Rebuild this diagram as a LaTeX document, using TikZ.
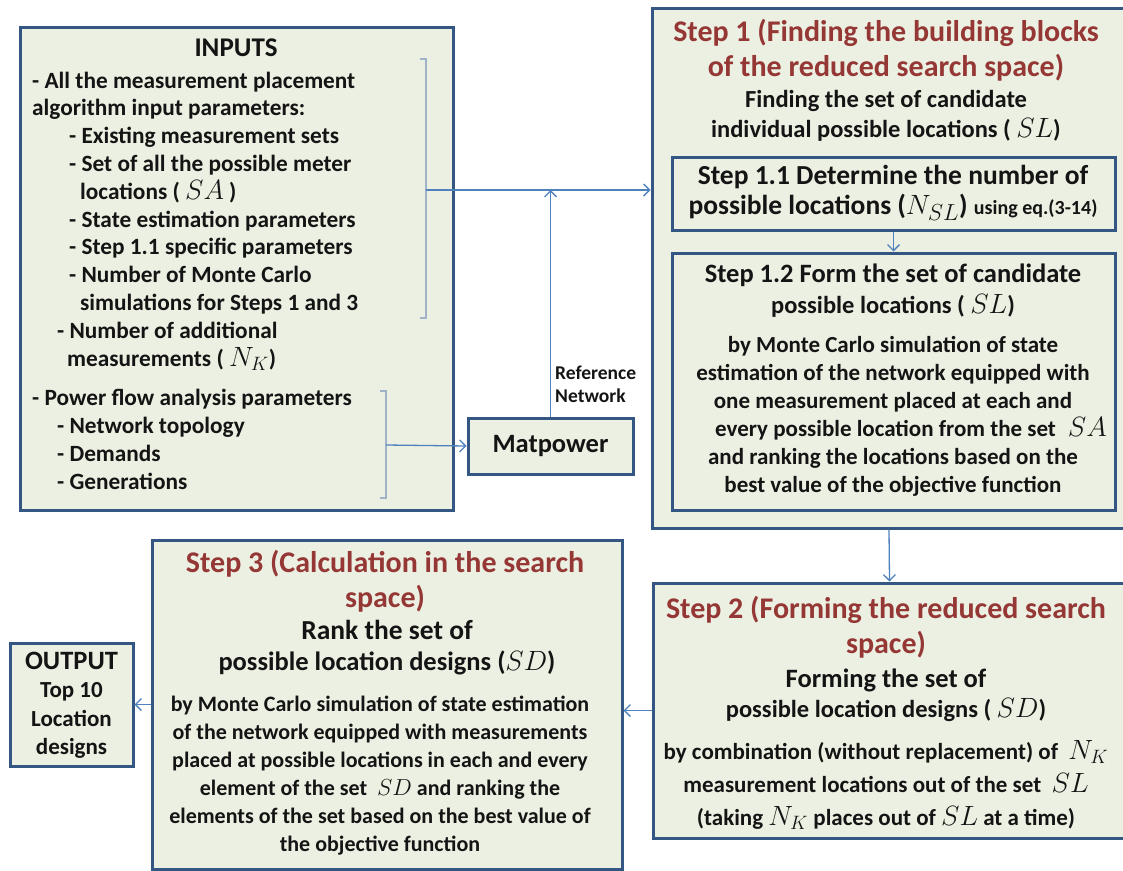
\documentclass[tikz,border=0pt]{standalone}
\usepackage{fontspec}
\usepackage{graphicx}
\setmainfont{Carlito}
\usetikzlibrary{arrows.meta}

\definecolor{boxfill}{RGB}{236,240,226}
\definecolor{boxline}{RGB}{52,86,130}
\definecolor{linkblue}{RGB}{79,129,189}
\definecolor{bracegray}{RGB}{160,178,200}
\definecolor{steptitle}{RGB}{149,55,53}
\definecolor{inktext}{RGB}{20,20,20}

\newcommand{\mv}[1]{\scalebox{1.12}{$#1$}}

\tikzset{
  block/.style={draw=boxline, line width=3pt, fill=boxfill, inner sep=0pt},
  link/.style={draw=linkblue, line width=1.3pt, -{Straight Barb[length=6pt,width=12pt]}},
  brace/.style={draw=bracegray, line width=1.4pt},
  title/.style={text=steptitle, align=center, inner sep=0pt, font=\bfseries\fontsize{30}{34.5}\selectfont},
  subtitle/.style={text=inktext, align=center, inner sep=0pt, font=\bfseries\fontsize{24.5}{30}\selectfont},
  body/.style={text=inktext, align=center, inner sep=0pt, font=\bfseries\fontsize{23}{28}\selectfont},
  listing/.style={text=inktext, align=left, inner sep=0pt, font=\bfseries\fontsize{23.3}{27.8}\selectfont},
}

\begin{document}
\begin{tikzpicture}[x=1pt, y=-1pt]
  \useasboundingbox (0,0) rectangle (1123,870);

  % boxes
  \node[block, minimum width=433pt, minimum height=483pt] (inputs) at (236.5,268.5) {};
  \node[block, minimum width=165pt, minimum height=56pt, text=inktext,
        font=\bfseries\fontsize{26.5}{30}\selectfont] (matpower) at (550.5,446) {Matpower};
  \node[block, minimum width=474pt, minimum height=520pt] (step1) at (889,268) {};
  \node[block, minimum width=443pt, minimum height=73pt] (step11) at (893.5,193.5) {};
  \node[block, minimum width=443pt, minimum height=257pt] (step12) at (893.5,381.5) {};
  \node[block, minimum width=473pt, minimum height=255pt] (step2) at (889.5,710.5) {};
  \node[block, minimum width=470pt, minimum height=329pt] (step3) at (387,704.5) {};
  \node[block, minimum width=123pt, minimum height=123pt] (output) at (71.5,704.5) {};

  % inputs
  \node[text=inktext, inner sep=0pt, font=\bfseries\fontsize{27}{30}\selectfont] (inputs-head) at (236,48) {INPUTS};
  \node[listing, anchor=west] (inputs-algo) at (32,221) {%
    - All the measurement placement\\
    algorithm input parameters:\\
    \hspace*{37pt}- Existing measurement sets\\
    \hspace*{37pt}- Set of all the possible meter\\
    \hspace*{48pt}locations ( \mv{SA} )\\
    \hspace*{37pt}- State estimation parameters\\
    \hspace*{37pt}- Step 1.1 specific parameters\\
    \hspace*{37pt}- Number of Monte Carlo\\
    \hspace*{48pt}simulations for Steps 1 and 3\\
    \hspace*{25pt}- Number of additional\\
    \hspace*{35pt}measurements ( \mv{N_K})};
  \node[listing, anchor=west] (inputs-flow) at (32,439.5) {%
    - Power flow analysis parameters\\
    \hspace*{25pt}- Network topology\\
    \hspace*{25pt}- Demands\\
    \hspace*{25pt}- Generations};
  \draw[brace] (420,59) -- (426,59) -- (426,318) -- (420,318);
  \draw[brace] (380,391) -- (386,391) -- (386,498) -- (380,498);
  \coordinate (brace1) at (426,190);
  \coordinate (brace2) at (386,445);

  \node[anchor=west, align=left, inner sep=0pt, text=inktext,
        font=\bfseries\fontsize{19.5}{23}\selectfont] (refnet) at (555,384.5) {Reference\\Network};

  % step 1
  \node[title] (s1-head) at (886,50) {Step 1 (Finding the building blocks\\of the reduced search space)};
  \node[subtitle] (s1-sub) at (886,116) {Finding the set of candidate\\individual possible locations ( \mv{SL})};
  \node[subtitle, font=\bfseries\fontsize{27.5}{30}\selectfont] (s11-text) at (893,192.5) {Step 1.1 Determine the number of\\possible locations (\mv{N_{SL}}) {\fontsize{20}{24}\selectfont using eq.(3-14)}};
  \node[subtitle, font=\bfseries\fontsize{26.5}{31}\selectfont] (s12-head) at (893,290.5) {Step 1.2 Form the set of candidate\\{\fontsize{24.5}{31}\selectfont possible locations ( \mv{SL})}};
  \node[body] (s12-text) at (893,416) {by Monte Carlo simulation of state\\
    estimation of the network equipped with\\
    one measurement placed at each and\\
    \hspace*{36pt}every possible location from the set\hspace{12pt}\mv{SA}\\
    and ranking the locations based on the\\
    best value of the objective function};

  % step 2
  \node[title] (s2-head) at (886,627) {Step 2 (Forming the reduced search\\space)};
  \node[subtitle] (s2-sub) at (886,695) {{\fontsize{26.5}{30}\selectfont Forming the set of}\\possible location designs ( \mv{SD})};
  \node[body, font=\bfseries\fontsize{23}{33}\selectfont] (s2-text) at (886,785) {by combination (without replacement) of \ \mv{N_K}\\
    measurement locations out of the set \ \mv{SL}\\
    (taking \mv{N_K} places out of \mv{SL} at a time)};

  % step 3
  \node[title] (s3-head) at (385,581) {Step 3 (Calculation in the search\\space)};
  \node[subtitle, font=\bfseries\fontsize{26.5}{31}\selectfont] (s3-sub) at (387,647.5) {{\fontsize{27.5}{31}\selectfont Rank the set of}\\possible location designs (\mv{SD})};
  \node[body, font=\bfseries\fontsize{22}{28}\selectfont] (s3-text) at (380,776) {by Monte Carlo simulation of state estimation\\
    of the network equipped with measurements\\
    placed at possible locations in each and every\\
    element of the set \ \mv{SD} and ranking the\\
    elements of the set based on the best value of\\
    the objective function};

  % output
  \node[body, font=\bfseries\fontsize{23}{28.5}\selectfont] (out-text) at (71.5,705) {{\fontsize{26.5}{28.5}\selectfont OUTPUT}\\Top 10\\Location\\designs};

  % connectors
  \draw[link] (brace1) -- (brace1 -| step1.west);
  \draw[link] (matpower.north) -- (matpower.north |- brace1);
  \draw[link] (brace2) -- (matpower.west);
  \draw[link] (step11.south) -- (step12.north);
  \draw[link] (step1.south) -- (step2.north);
  \draw[link] (step2.west) -- (step2.west -| step3.east);
  \draw[link] (output.east -| step3.west) -- (output.east);
\end{tikzpicture}
\end{document}
